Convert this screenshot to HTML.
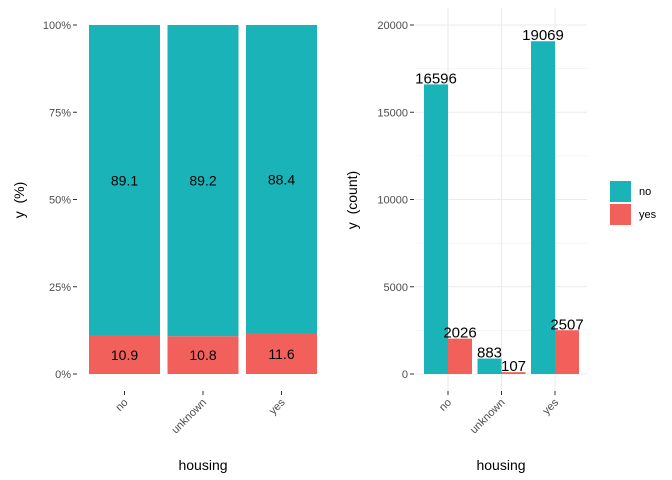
<!DOCTYPE html>
<html><head><meta charset="utf-8"><style>
body{margin:0;background:#fff;}
svg{font-family:"Liberation Sans",sans-serif;display:block}
text{white-space:pre}
</style></head><body>
<svg id="c" width="672" height="480" xmlns="http://www.w3.org/2000/svg"></svg>
<script>
const categories=["no","unknown","yes"];
const pctYes=[10.9,10.8,11.6];
const pctNo=[89.1,89.2,88.4];
const countNo=[16596,883,19069];
const countYes=[2026,107,2507];
const pctTicks=[0,25,50,75,100];
const pctTickLabels=["0%","25%","50%","75%","100%"];
const countTicks=[0,5000,10000,15000,20000];
const legendLabels=["no","yes"];
const TEAL="#1AB4B8",RED="#F2605B";
const svg=document.getElementById('c');
function el(t,a,p){const e=document.createElementNS("http://www.w3.org/2000/svg",t);for(const k in a)e.setAttribute(k,a[k]);(p||svg).appendChild(e);return e;}
function txt(s,a,p){const e=el("text",a,p);e.textContent=s;return e;}
const y0=374,y1=25;
// left panel
const lx0=85,lstep=78.5,lbw=71;
const lxC=i=>lx0+39.5+i*lstep;
const lY=v=>y0-(v/100)*(y0-y1);
const gL=el("g",{});

pctTicks.forEach((t,i)=>{
 const tl=txt(pctTickLabels[i],{x:71,y:lY(t)+4,"text-anchor":"end","font-size":11,fill:"#4d4d4d"},gL);
 
 el("line",{x1:73,x2:77,y1:lY(t),y2:lY(t),stroke:"#333"},gL);
});
categories.forEach((c,i)=>{
 const x=lxC(i)-lbw/2;
 const r1=el("rect",{x:x,y:lY(100),width:lbw,height:lY(pctYes[i])-lY(100),fill:TEAL},gL);
 
 const r2=el("rect",{x:x,y:lY(pctYes[i]),width:lbw,height:lY(0)-lY(pctYes[i]),fill:RED},gL);
 
 const t1=txt(pctNo[i].toFixed(1),{x:lxC(i),y:lY(pctYes[i]+pctNo[i]/2)+5,"text-anchor":"middle","font-size":14,fill:"#000"},gL);
 
 const t2=txt(pctYes[i].toFixed(1),{x:lxC(i),y:lY(pctYes[i]/2)+5,"text-anchor":"middle","font-size":14,fill:"#000"},gL);
 
 el("line",{x1:lxC(i),x2:lxC(i),y1:391,y2:395,stroke:"#333"},gL);
 const xl=txt(c,{x:lxC(i)+4,y:403,"text-anchor":"end","font-size":11,fill:"#4d4d4d",transform:`rotate(-45 ${lxC(i)+4} 403)`},gL);
 
});
const ylt=txt("y  (%)",{x:24,y:200,"text-anchor":"middle","font-size":14,fill:"#000",transform:"rotate(-90 24 200)"},gL);

const xlt=txt("housing",{x:203,y:470,"text-anchor":"middle","font-size":14,fill:"#000"},gL);

// right panel
const rx0=415,rx1=587,rstep=53.5,rbw=24;
const rxC=i=>448+i*rstep;
const rY=v=>y0-(v/20000)*(y0-y1);
const gR=el("g",{});

for(let v=2500;v<=20000;v+=5000)el("line",{x1:rx0,x2:rx1,y1:rY(v),y2:rY(v),stroke:"#ebebeb","stroke-width":0.6},gR);
countTicks.forEach(t=>{
 el("line",{x1:rx0,x2:rx1,y1:rY(t),y2:rY(t),stroke:"#ebebeb","stroke-width":1.1},gR);
 const tl=txt(String(t),{x:408,y:rY(t)+4,"text-anchor":"end","font-size":11,fill:"#4d4d4d"},gR);
 
 el("line",{x1:410,x2:414,y1:rY(t),y2:rY(t),stroke:"#333"},gR);
});
categories.forEach((c,i)=>el("line",{x1:rxC(i),x2:rxC(i),y1:8,y2:392,stroke:"#ebebeb","stroke-width":1.1},gR));
categories.forEach((c,i)=>{
 const cx=rxC(i);
 const a=el("rect",{x:cx-rbw,y:rY(countNo[i]),width:rbw,height:rY(0)-rY(countNo[i]),fill:TEAL},gR);
 
 const b=el("rect",{x:cx,y:rY(countYes[i]),width:rbw,height:rY(0)-rY(countYes[i]),fill:RED},gR);
 
 const t1=txt(String(countNo[i]),{x:cx-rbw/2,y:rY(countNo[i])-1,"text-anchor":"middle","font-size":15,fill:"#000"},gR);
 
 const t2=txt(String(countYes[i]),{x:cx+rbw/2,y:rY(countYes[i])-1,"text-anchor":"middle","font-size":15,fill:"#000"},gR);
 
 el("line",{x1:cx,x2:cx,y1:391,y2:395,stroke:"#333"},gR);
 const xl=txt(c,{x:cx+4,y:403,"text-anchor":"end","font-size":11,fill:"#4d4d4d",transform:`rotate(-45 ${cx+4} 403)`},gR);
 
});
const ylt2=txt("y  (count)",{x:357,y:200,"text-anchor":"middle","font-size":14,fill:"#000",transform:"rotate(-90 357 200)"},gR);

const xlt2=txt("housing",{x:501,y:470,"text-anchor":"middle","font-size":14,fill:"#000"},gR);

// legend
const gLeg=el("g",{});

[TEAL,RED].forEach((col,i)=>{
 const r=el("rect",{x:610,y:181+i*23,width:21,height:21,fill:col},gLeg);
 
 const t=txt(legendLabels[i],{x:639,y:195+i*23,"font-size":11,fill:"#000"},gLeg);
 
});
</script>
</body></html>
